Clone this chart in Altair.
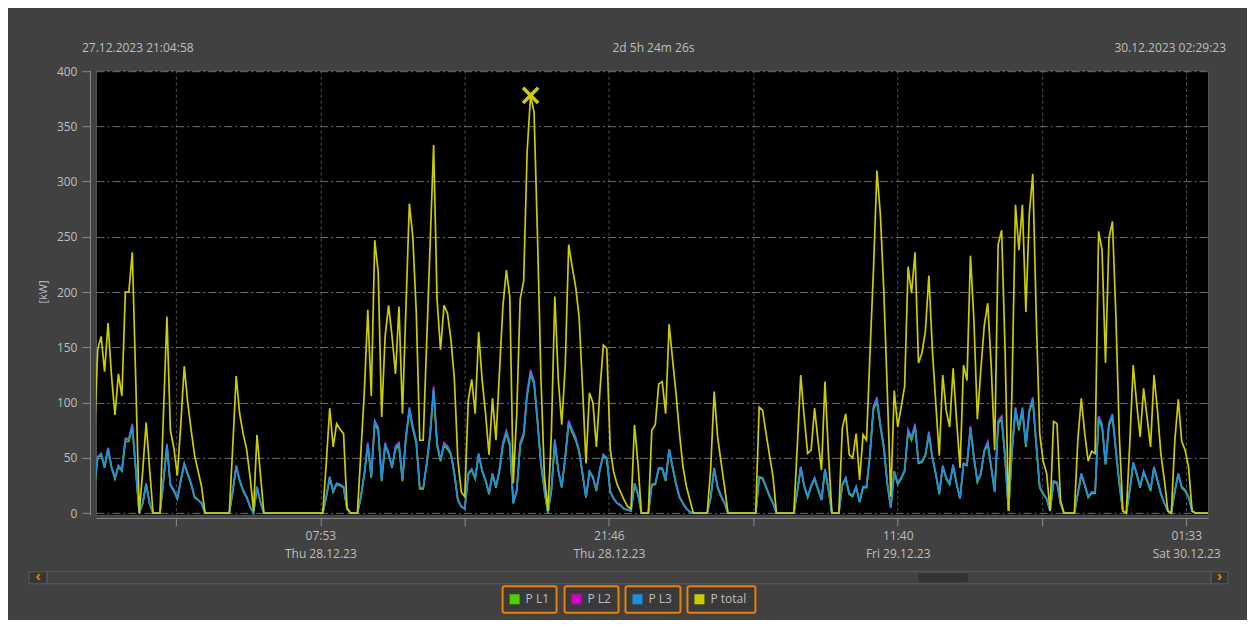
import altair as alt
import pandas as pd

# ---------------- data ----------------
SAMPLE_MIN = 10          # one sample every 10 minutes
FIRST_SAMPLE_MIN = -5    # first sample lies just left of the visible window

series_names = ["P L1", "P L2", "P L3", "P total"]
series_colors = ["#4fd000", "#d400c8", "#1b8fe0", "#cccc00"]

p_total = [
    62, 148, 160, 128, 172, 124, 89, 126, 106, 200,
    200, 236, 120, 0, 38, 82, 40, 0, 0, 0,
    90, 178, 75, 59, 34, 80, 133, 100, 75, 52,
    38, 24, 0, 0, 0, 0, 0, 0, 0, 0,
    60, 124, 90, 72, 58, 33, 2, 71, 35, 0,
    0, 0, 0, 0, 0, 0, 0, 0, 0, 0,
    0, 0, 0, 0, 0, 0, 0, 45, 95, 60,
    81, 76, 72, 5, 0, 0, 0, 55, 110, 184,
    106, 247, 218, 87, 160, 188, 160, 126, 187, 90,
    185, 280, 250, 181, 66, 66, 155, 244, 333, 193,
    148, 188, 181, 157, 121, 48, 19, 15, 102, 121,
    90, 164, 121, 90, 53, 104, 66, 127, 187, 220,
    196, 27, 90, 194, 210, 327, 378, 363, 250, 121,
    33, 2, 72, 196, 121, 80, 133, 243, 223, 205,
    178, 114, 45, 109, 100, 60, 110, 152, 149, 58,
    37, 26, 19, 12, 6, 4, 80, 45, 0, 0,
    0, 75, 80, 117, 119, 90, 171, 139, 108, 72,
    42, 24, 12, 0, 0, 0, 0, 0, 40, 110,
    69, 46, 24, 0, 0, 0, 0, 0, 0, 0,
    0, 0, 96, 93, 72, 52, 33, 0, 0, 0,
    0, 0, 0, 60, 125, 87, 54, 57, 95, 65,
    39, 119, 54, 0, 0, 0, 77, 90, 53, 50,
    72, 30, 71, 66, 145, 220, 310, 270, 200, 110,
    15, 111, 78, 96, 115, 223, 199, 236, 136, 145,
    165, 215, 148, 99, 52, 125, 93, 78, 131, 84,
    41, 134, 120, 233, 175, 85, 130, 170, 190, 133,
    57, 243, 256, 148, 2, 112, 279, 238, 279, 182,
    271, 307, 178, 72, 47, 36, 2, 83, 81, 12,
    0, 0, 0, 0, 66, 104, 72, 47, 56, 54,
    255, 238, 136, 249, 264, 178, 69, 2, 0, 63,
    134, 99, 69, 113, 87, 60, 125, 93, 53, 30,
    2, 0, 65, 103, 65, 57, 41, 2, 0, 0,
    0, 0, 0,
]

p_l3 = [
    22, 51, 54, 42, 59, 42, 32, 43, 39, 67,
    67, 80, 40, 0, 9, 27, 9, 0, 0, 0,
    30, 62, 26, 21, 13, 30, 45, 36, 27, 15,
    12, 9, 0, 0, 0, 0, 0, 0, 0, 0,
    20, 43, 30, 21, 15, 6, 0, 24, 10, 0,
    0, 0, 0, 0, 0, 0, 0, 0, 0, 0,
    0, 0, 0, 0, 0, 0, 0, 15, 33, 20,
    27, 26, 24, 4, 0, 0, 0, 15, 36, 63,
    33, 83, 77, 30, 63, 54, 42, 60, 63, 30,
    69, 95, 78, 65, 23, 23, 45, 72, 113, 63,
    48, 63, 60, 54, 36, 12, 6, 4, 36, 40,
    32, 54, 39, 30, 18, 36, 24, 39, 63, 74,
    63, 9, 21, 63, 72, 108, 128, 119, 84, 45,
    21, 0, 21, 66, 39, 24, 51, 83, 75, 68,
    57, 36, 14, 38, 33, 21, 40, 53, 50, 20,
    13, 9, 7, 4, 3, 2, 27, 18, 0, 0,
    0, 26, 27, 41, 41, 30, 58, 42, 27, 15,
    9, 4, 1, 0, 0, 0, 0, 0, 14, 41,
    24, 16, 9, 0, 0, 0, 0, 0, 0, 0,
    0, 0, 33, 32, 24, 16, 9, 0, 0, 0,
    0, 0, 0, 20, 42, 25, 15, 25, 32, 22,
    12, 40, 22, 0, 0, 0, 26, 32, 18, 16,
    24, 10, 24, 24, 54, 96, 103, 80, 60, 27,
    5, 38, 27, 32, 39, 75, 68, 80, 46, 47,
    53, 73, 51, 36, 18, 43, 32, 27, 44, 27,
    13, 45, 44, 78, 51, 29, 36, 57, 64, 42,
    20, 83, 87, 51, 2, 57, 95, 77, 95, 62,
    93, 104, 63, 24, 18, 13, 2, 29, 28, 9,
    0, 0, 0, 0, 18, 36, 26, 15, 19, 19,
    87, 80, 45, 81, 89, 57, 27, 2, 0, 21,
    46, 36, 24, 38, 30, 21, 42, 30, 18, 9,
    2, 0, 20, 36, 24, 21, 15, 2, 0, 0,
    0, 0, 0,
]

p_l1 = [
    21, 50, 53, 41, 58, 41, 31, 42, 38, 65,
    65, 78, 39, 0, 9, 26, 9, 0, 0, 0,
    29, 60, 25, 20, 13, 29, 44, 35, 26, 14,
    12, 9, 0, 0, 0, 0, 0, 0, 0, 0,
    19, 42, 29, 20, 14, 6, 0, 23, 10, 0,
    0, 0, 0, 0, 0, 0, 0, 0, 0, 0,
    0, 0, 0, 0, 0, 0, 0, 14, 32, 19,
    26, 25, 23, 4, 0, 0, 0, 14, 35, 61,
    32, 81, 75, 29, 61, 53, 41, 58, 61, 29,
    67, 93, 76, 63, 22, 22, 44, 70, 111, 61,
    47, 61, 58, 53, 35, 12, 6, 4, 35, 39,
    31, 53, 38, 29, 17, 35, 23, 38, 61, 72,
    61, 9, 20, 61, 70, 106, 126, 117, 82, 44,
    20, 0, 20, 64, 38, 23, 50, 81, 73, 66,
    56, 35, 14, 37, 32, 20, 39, 52, 49, 19,
    13, 9, 7, 4, 3, 2, 26, 17, 0, 0,
    0, 25, 26, 40, 40, 29, 57, 41, 26, 14,
    9, 4, 1, 0, 0, 0, 0, 0, 14, 40,
    23, 15, 9, 0, 0, 0, 0, 0, 0, 0,
    0, 0, 32, 31, 23, 15, 9, 0, 0, 0,
    0, 0, 0, 19, 41, 24, 14, 24, 31, 21,
    12, 39, 21, 0, 0, 0, 25, 31, 17, 15,
    23, 10, 23, 23, 53, 94, 101, 78, 58, 26,
    5, 37, 26, 31, 38, 73, 66, 78, 45, 46,
    52, 71, 50, 35, 17, 42, 31, 26, 43, 26,
    13, 44, 43, 76, 50, 28, 35, 56, 62, 41,
    19, 81, 85, 50, 2, 56, 93, 75, 93, 60,
    91, 102, 61, 23, 17, 13, 2, 28, 27, 9,
    0, 0, 0, 0, 17, 35, 25, 14, 18, 18,
    85, 78, 44, 79, 87, 56, 26, 2, 0, 20,
    45, 35, 23, 37, 29, 20, 41, 29, 17, 9,
    2, 0, 19, 35, 23, 20, 14, 2, 0, 0,
    0, 0, 0,
]

p_l2 = [
    22, 51, 54, 42, 59, 42, 32, 43, 39, 68,
    68, 81, 40, 0, 9, 27, 9, 0, 0, 0,
    30, 63, 26, 21, 13, 30, 45, 36, 27, 15,
    12, 9, 0, 0, 0, 0, 0, 0, 0, 0,
    20, 43, 30, 21, 15, 6, 0, 24, 10, 0,
    0, 0, 0, 0, 0, 0, 0, 0, 0, 0,
    0, 0, 0, 0, 0, 0, 0, 15, 33, 20,
    27, 26, 24, 4, 0, 0, 0, 15, 36, 64,
    33, 84, 78, 30, 64, 54, 42, 61, 64, 30,
    70, 96, 79, 66, 23, 23, 45, 73, 115, 64,
    48, 64, 61, 54, 36, 12, 6, 4, 36, 40,
    32, 54, 39, 30, 18, 36, 24, 39, 64, 75,
    64, 9, 21, 64, 73, 110, 130, 120, 85, 45,
    21, 0, 21, 67, 39, 24, 51, 84, 76, 69,
    57, 36, 14, 38, 33, 21, 40, 53, 50, 20,
    13, 9, 7, 4, 3, 2, 27, 18, 0, 0,
    0, 26, 27, 41, 41, 30, 58, 42, 27, 15,
    9, 4, 1, 0, 0, 0, 0, 0, 14, 41,
    24, 16, 9, 0, 0, 0, 0, 0, 0, 0,
    0, 0, 33, 32, 24, 16, 9, 0, 0, 0,
    0, 0, 0, 20, 42, 25, 15, 25, 32, 22,
    12, 40, 22, 0, 0, 0, 26, 32, 18, 16,
    24, 10, 24, 24, 54, 97, 105, 81, 61, 27,
    5, 38, 27, 32, 39, 76, 69, 81, 46, 47,
    53, 74, 51, 36, 18, 43, 32, 27, 44, 27,
    13, 45, 44, 79, 51, 29, 36, 57, 65, 42,
    20, 84, 88, 51, 2, 57, 96, 78, 96, 63,
    94, 105, 64, 24, 18, 13, 2, 29, 28, 9,
    0, 0, 0, 0, 18, 36, 26, 15, 19, 19,
    88, 81, 45, 82, 90, 57, 27, 2, 0, 21,
    46, 36, 24, 38, 30, 21, 42, 30, 18, 9,
    2, 0, 20, 36, 24, 21, 15, 2, 0, 0,
    0, 0, 0,
]

# x ticks (minutes after the window start 27.12.2023 21:04:58)
tick_minutes = [231.5, 648, 1064.5, 1481, 1897.5, 2315, 2731.5, 3148]
tick_time = ["", "07:53", "", "21:46", "", "11:40", "", "01:33"]
tick_day = ["", "Thu 28.12.23", "", "Thu 28.12.23", "", "Fri 29.12.23", "", "Sat 30.12.23"]
window_minutes = 3211
y_ticks = [0, 50, 100, 150, 200, 250, 300, 350, 400]

start_label = "27.12.2023 21:04:58"
span_label = "2d 5h 24m 26s"
end_label = "30.12.2023 02:29:23"
unit_label = "[kW]"

# ---------------- styling ----------------
FONT = "Open Sans"
TXT = "#bfbfbf"
BG = "#414141"
AXIS = "#8c8c8c"
ORANGE = "#e6820a"

W, H = 1113, 445

times = [FIRST_SAMPLE_MIN + SAMPLE_MIN * i for i in range(len(p_total))]
series_values = [p_l1, p_l2, p_l3, p_total]
frames = {
    n: pd.DataFrame({"t": times, "v": vals, "s": n})
    for n, vals in zip(series_names, series_values)
}

label_expr = "''"
for m, a, b in reversed(list(zip(tick_minutes, tick_time, tick_day))):
    if a:
        label_expr = f"datum.value == {m} ? ['{a}', '{b}'] : ({label_expr})"

x_enc = alt.X(
    "t:Q",
    scale=alt.Scale(domain=[0, window_minutes], nice=False, zero=False),
    axis=alt.Axis(
        values=tick_minutes, labelExpr=label_expr, title=None,
        grid=True, gridColor="#555555", gridDash=[3, 3], gridWidth=1,
        domainColor=AXIS, tickColor=AXIS, tickSize=8, offset=3,
        labelColor=TXT, labelFont=FONT, labelFontSize=12, labelLineHeight=18,
        labelPadding=5, labelOverlap=False, labelFlush=False, labelBound=False,
    ),
)
y_enc = alt.Y(
    "v:Q",
    scale=alt.Scale(domain=[-1.5, 400.8], nice=False, zero=False),
    axis=alt.Axis(
        values=y_ticks, title=None,
        grid=True, gridColor="#6e6e6e", gridDash=[8, 3, 2, 3], gridWidth=1,
        domainColor=AXIS, tickColor=AXIS, tickSize=8, offset=6,
        labelColor=TXT, labelFont=FONT, labelFontSize=12, labelPadding=5,
    ),
)

# draw order: L2 (magenta) and L1 (green) below L3 (blue), total on top
draw_order = ["P L2", "P L1", "P L3", "P total"]
color_of = dict(zip(series_names, series_colors))
layers = []
for n in draw_order:
    layers.append(
        alt.Chart(frames[n]).mark_line(color=color_of[n], strokeWidth=1.7, clip=True)
        .encode(x=x_enc, y=y_enc)
    )

# peak marker of P total
tot_df = frames["P total"]
peak = tot_df.loc[[tot_df["v"].idxmax()]]
layers.append(
    alt.Chart(peak).mark_point(
        shape="M-1,-1L1,1M-1,1L1,-1", size=230, strokeWidth=3.5,
        color=color_of["P total"], filled=False, opacity=1,
    ).encode(x=x_enc, y=y_enc)
)


def deco():
    return alt.Chart(pd.DataFrame({"k": [0]}))


def text(label, x, y, align="left", size=12, color=TXT, angle=0, weight="normal"):
    return deco().mark_text(
        text=label, align=align, baseline="middle", font=FONT, fontSize=size,
        color=color, angle=angle, fontWeight=weight,
    ).encode(x=alt.value(x), y=alt.value(y))


def rect(x0, x1, y0, y1, fill, stroke=None, sw=1, radius=0):
    kw = dict(fill=fill, cornerRadius=radius)
    if stroke:
        kw.update(stroke=stroke, strokeWidth=sw)
    return deco().mark_rect(**kw).encode(
        x=alt.value(x0), x2=alt.value(x1), y=alt.value(y0), y2=alt.value(y1)
    )


# header texts
layers.append(text(start_label, -14, -22, "left"))
layers.append(text(span_label, 558, -22, "center"))
layers.append(text(end_label, 1131, -22, "right"))
layers.append(text(unit_label, -52, 222, "center", size=11, angle=270))

# scrollbar
layers.append(rect(-49, 1116, 502, 514, BG, "#5c5c5c"))
layers.append(rect(-67, -49, 502, 514, "#363636", "#5c5c5c"))
layers.append(rect(1116, 1133, 502, 514, "#363636", "#5c5c5c"))
layers.append(rect(823, 873, 503.5, 512.5, "#333333", radius=3))
layers.append(text("‹", -58, 507, "center", size=14, color=ORANGE, weight="bold"))
layers.append(text("›", 1124.5, 507, "center", size=14, color=ORANGE, weight="bold"))

# legend boxes
legend_x = [407, 469, 530, 592]
legend_w = [54, 54, 55, 68]
for n, c, lx, lw in zip(series_names, series_colors, legend_x, legend_w):
    layers.append(rect(lx, lx + lw, 516.5, 543, "#3a3a3a", ORANGE, 2, 2))
    layers.append(rect(lx + 7, lx + 17, 524.5, 534.5, c))
    layers.append(text(n, lx + 23, 529.5, "left"))

chart = alt.layer(*layers).properties(
    width=W,
    height=H,
    autosize=alt.AutoSizeParams(type="none"),
    padding={"left": 88, "top": 62, "right": 39, "bottom": 105},
    background=BG,
).configure_view(fill="#000000", stroke="#555555", strokeWidth=1)

chart.save("out.html", embed_options={"renderer": "svg", "actions": False})
